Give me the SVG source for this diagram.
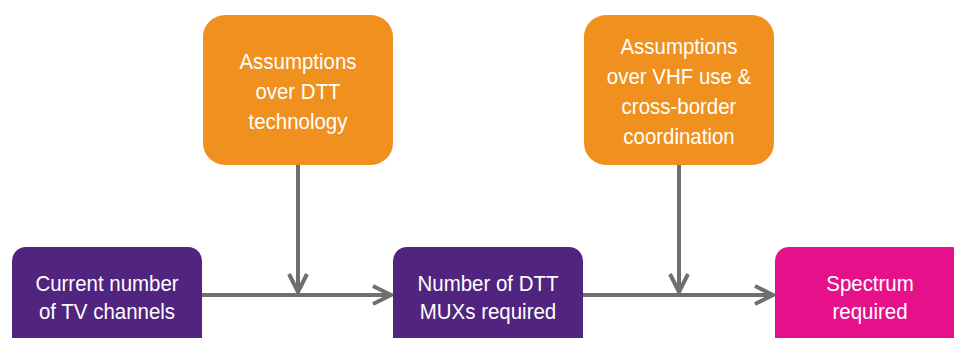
<svg xmlns="http://www.w3.org/2000/svg" width="954" height="338" viewBox="0 0 954 338">
<defs>
<style>
.orange{fill:#F0901F}
.purple{fill:#51247F}
.pink{fill:#E6118A}
.t{font-family:"Liberation Sans",Arial,sans-serif;font-size:22px;fill:#ffffff;text-anchor:middle}
.c{stroke:#6F6F6F;stroke-width:4;fill:none}
</style>
<marker id="ah" viewBox="0 0 24 24" refX="20" refY="12" markerWidth="24" markerHeight="24" markerUnits="userSpaceOnUse" orient="auto">
<path d="M2,3 L20,12 L2,21" fill="none" stroke="#6F6F6F" stroke-width="4" stroke-linejoin="miter"/>
</marker>
</defs>
<rect width="954" height="338" fill="#ffffff"/>
<g id="connectors">
<line class="c" x1="202" y1="295" x2="391" y2="295" marker-end="url(#ah)"/>
<line class="c" x1="298" y1="165" x2="298" y2="292" marker-end="url(#ah)"/>
<line class="c" x1="583" y1="295" x2="773" y2="295" marker-end="url(#ah)"/>
<line class="c" x1="679" y1="165" x2="679" y2="292" marker-end="url(#ah)"/>
</g>
<g id="n1">
<rect class="orange" x="203" y="15" width="190" height="150" rx="22"/>
<text class="t" transform="translate(298,69) scale(0.93,1)">Assumptions</text>
<text class="t" transform="translate(298,99) scale(0.93,1)">over DTT</text>
<text class="t" transform="translate(298,129) scale(0.93,1)">technology</text>
</g>
<g id="n2">
<rect class="orange" x="584" y="15" width="190" height="150" rx="22"/>
<text class="t" transform="translate(679,54) scale(0.93,1)">Assumptions</text>
<text class="t" transform="translate(679,84) scale(0.93,1)">over VHF use &amp;</text>
<text class="t" transform="translate(679,114) scale(0.93,1)">cross-border</text>
<text class="t" transform="translate(679,144) scale(0.93,1)">coordination</text>
</g>
<g id="n3">
<rect class="purple" x="12" y="247" width="190" height="110" rx="14"/>
<text class="t" transform="translate(107,291) scale(0.93,1)">Current number</text>
<text class="t" transform="translate(107,319) scale(0.93,1)">of TV channels</text>
</g>
<g id="n4">
<rect class="purple" x="393" y="247" width="190" height="110" rx="14"/>
<text class="t" transform="translate(488,291) scale(0.93,1)">Number of DTT</text>
<text class="t" transform="translate(488,319) scale(0.93,1)">MUXs required</text>
</g>
<g id="n5">
<rect class="pink" x="775" y="247" width="190" height="110" rx="14"/>
<text class="t" transform="translate(870,291) scale(0.93,1)">Spectrum</text>
<text class="t" transform="translate(870,319) scale(0.93,1)">required</text>
</g>
</svg>
